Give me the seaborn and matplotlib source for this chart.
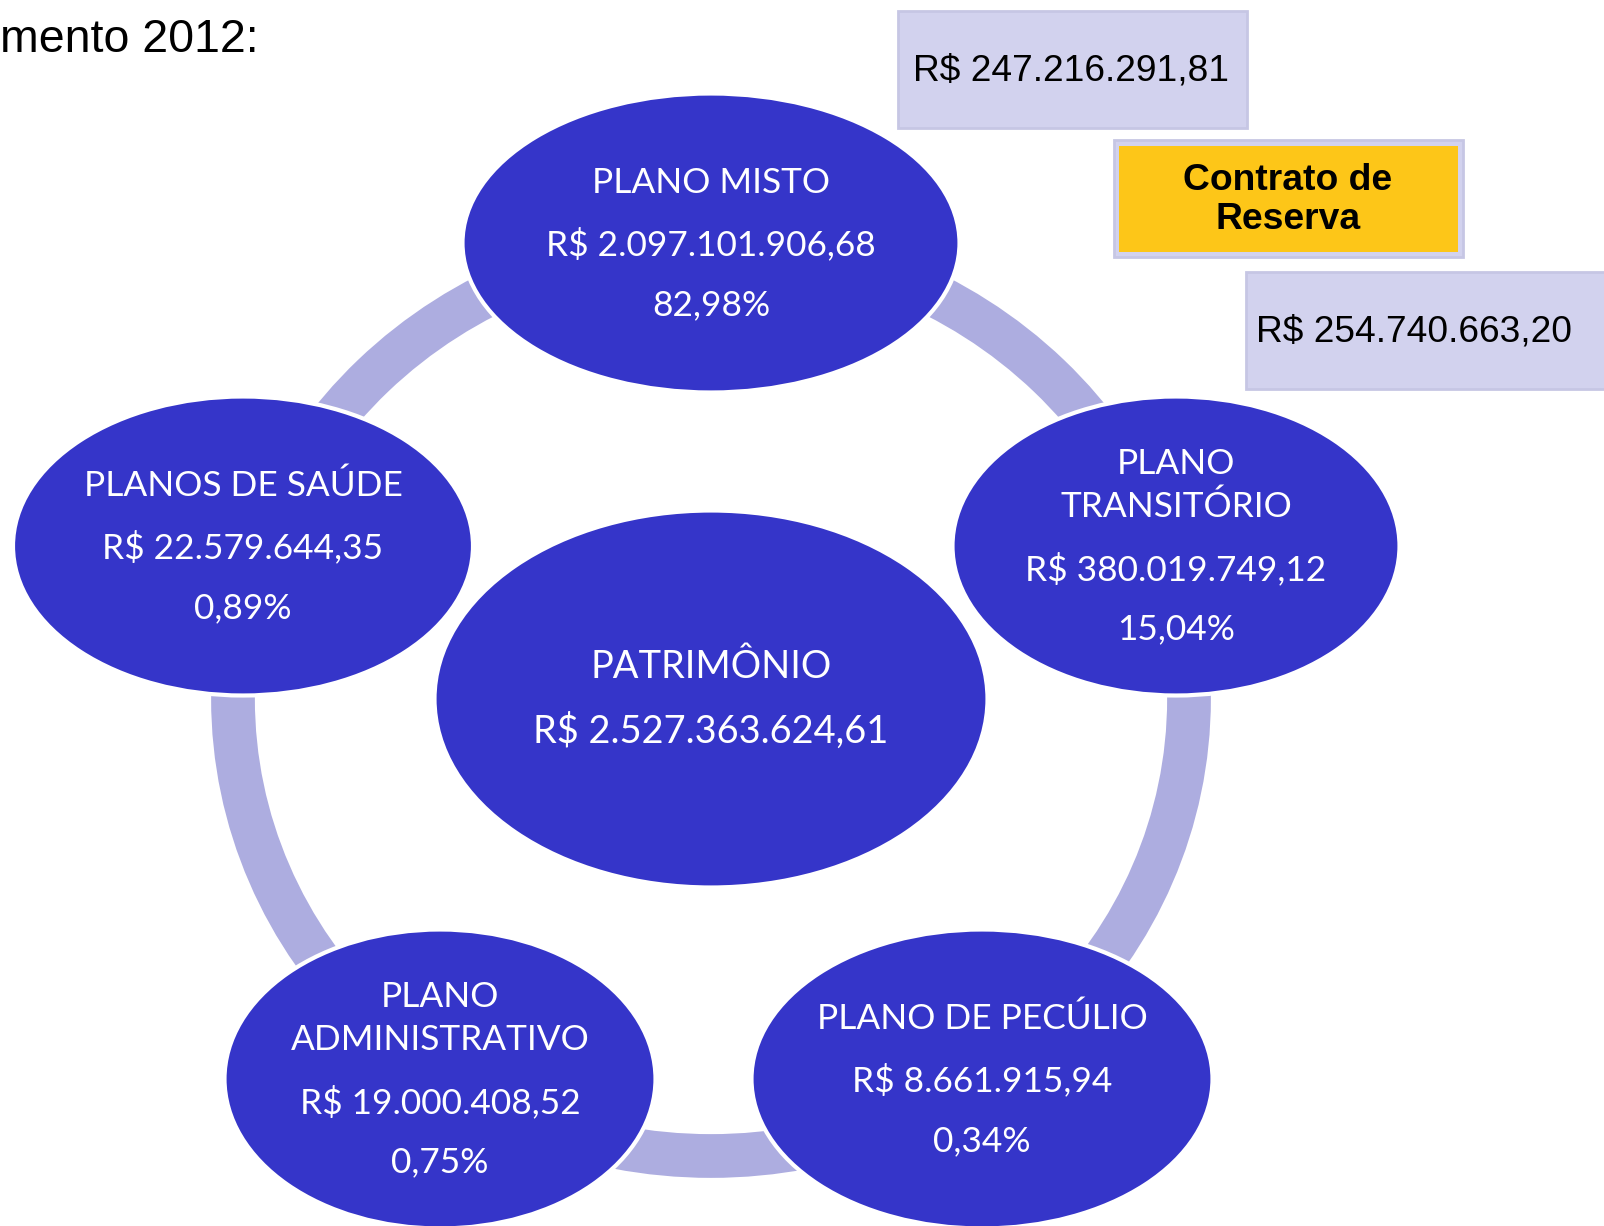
import matplotlib
matplotlib.use("Agg")
import matplotlib.pyplot as plt
from matplotlib.patches import Ellipse, Rectangle
import seaborn as sn

sn.set_theme(style="white")
plt.rcParams['font.family'] = ['Lato', 'DejaVu Sans']

# Data
plan_names = ["PLANO MISTO", "PLANO\nTRANSITÓRIO", "PLANO DE PECÚLIO",
              "PLANO\nADMINISTRATIVO", "PLANOS DE SAÚDE"]
plan_values = ["R$ 2.097.101.906,68", "R$ 380.019.749,12", "R$ 8.661.915,94",
               "R$ 19.000.408,52", "R$ 22.579.644,35"]
plan_shares = ["82,98%", "15,04%", "0,34%", "0,75%", "0,89%"]

total_name = "PATRIMÔNIO"
total_value = "R$ 2.527.363.624,61"

reserve_label = "Contrato de\nReserva"
reserve_values = ["R$ 247.216.291,81", "R$ 254.740.663,20"]

title_text = "mento 2012:"

# Layout (pixel coordinates)
W, H = 1604, 1226
node_xy = [(711, 243), (1176, 546), (982, 1079), (440, 1079), (243, 546)]
node_w = [497, 447, 461, 431, 460]
node_h = 299
center_xy = (711, 699)

node_color = "#3535C9"
ring_color = "#ADADE0"
box_color = "#D2D2EE"
box_edge = "#C6C6E4"
gold = "#FDC618"

fig = plt.figure(figsize=(W / 100, H / 100), dpi=100)
ax = fig.add_axes([0, 0, 1, 1])
ax.set_xlim(0, W)
ax.set_ylim(H, 0)
ax.axis("off")

# ring connecting the plans
ring = Ellipse(center_xy, 2 * 478, 2 * 457, fill=False,
               edgecolor=ring_color, linewidth=31.5, zorder=1)
ax.add_patch(ring)

# plan ellipses
for (x, y), w, name, val, pct in zip(node_xy, node_w, plan_names, plan_values, plan_shares):
    ax.add_patch(Ellipse((x, y), w, node_h, facecolor=node_color,
                         edgecolor="white", linewidth=3, zorder=2))
    name_lines = name.split("\n")
    if len(name_lines) == 1:
        offsets = [-60, 1, 62]
    else:
        offsets = [-82, -39, 23, 83]
    lines = name_lines + [val, pct]
    for off, line in zip(offsets, lines):
        ax.text(x, y + off, line, color="white", fontsize=25.4,
                ha="center", va="center", zorder=3)

# center ellipse
cx, cy = center_xy
ax.add_patch(Ellipse(center_xy, 553, 377, facecolor=node_color,
                     edgecolor="white", linewidth=3, zorder=2))
ax.text(cx, cy - 32, total_name, color="white", fontsize=27.4,
        ha="center", va="center", zorder=3)
ax.text(cx, cy + 32, total_value, color="white", fontsize=27.4,
        ha="center", va="center", zorder=3)

# reserve boxes
ax.add_patch(Rectangle((898, 11), 349, 117, facecolor=box_color,
                       edgecolor=box_edge, linewidth=2, zorder=2))
ax.text(1071, 71, reserve_values[0], fontsize=26.7, family="Liberation Sans",
        ha="center", va="center", color="black", zorder=3)

ax.add_patch(Rectangle((1114, 140), 349, 117, facecolor=box_color,
                       edgecolor=box_edge, linewidth=2, zorder=2))
ax.add_patch(Rectangle((1119, 146), 339, 106, facecolor=gold,
                       edgecolor="none", zorder=3))
ax.text(1288, 200, reserve_label, fontsize=26.8, family="Liberation Sans",
        fontweight="bold", ha="center", va="center", color="black",
        linespacing=1.17, zorder=4)

ax.add_patch(Rectangle((1246, 272), 370, 117, facecolor=box_color,
                       edgecolor=box_edge, linewidth=2, zorder=2))
ax.text(1414, 332, reserve_values[1], fontsize=26.7, family="Liberation Sans",
        ha="center", va="center", color="black", zorder=3)

# cut-off heading
ax.text(0, 40, title_text, fontsize=33.5, family="Liberation Sans",
        ha="left", va="center", color="black")

fig.savefig("out.png", dpi=100)
